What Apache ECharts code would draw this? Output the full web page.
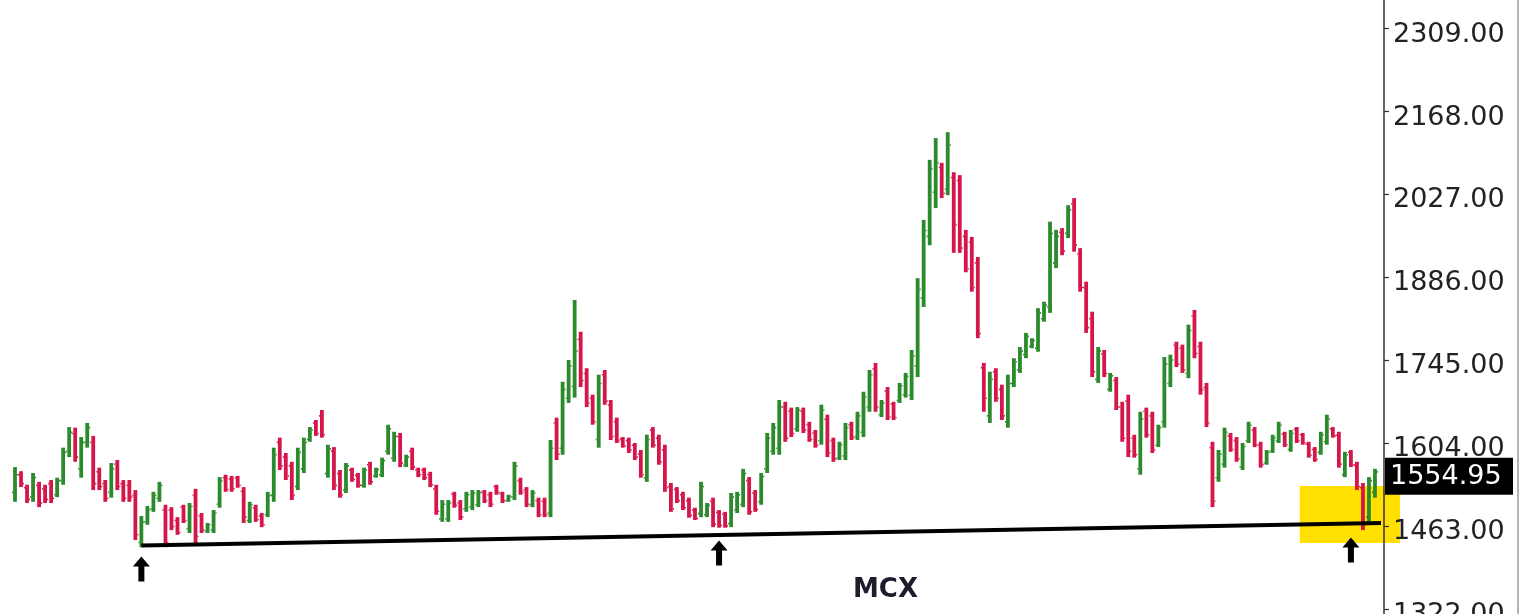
<!DOCTYPE html>
<html><head><meta charset="utf-8">
<script src="https://cdn.jsdelivr.net/npm/echarts/dist/echarts.min.js"></script>
<style>html,body{margin:0;padding:0;background:#fff}#c{width:1532px;height:614px}</style>
</head><body><div id="c"></div>
<script>
// OHLC bars (oldest -> newest)
const OPEN=[1520,1550,1528,1512,1532,1526,1535,1516,1540,1590,1620,1560,1605,1605,1555,1535,1520,1568,1535,1532,1515,1435,1470,1492,1510,1490,1490,1472,1495,1458,1515,1480,1454,1456,1500,1545,1543,
1545,1522,1472,1494,1480,1482,1515,1605,1580,1565,1530,1560,1610,1638,1650,1552,1590,1552,1524,1558,1549,1532,1567,1548,1550,1590,1578,1615,1566,1590,1558,1558,1550,1526,1475,1475,1517,
1502,1492,1495,1499,1520,1516,1530,1518,1506,1512,1540,1524,1499,1506,1505,1485,1638,1595,1680,1700,1780,1722,1680,1610,1720,1668,1640,1611,1608,1600,1585,1545,1626,1612,1592,1530,1525,1516,1506,1490,
1484,1482,1505,1486,1483,1467,1490,1500,1540,1519,1504,1560,1590,1595,1665,1658,1628,1658,1635,1621,1608,1644,1608,1579,1582,1635,1615,1622,1665,1730,1652,1692,1670,1676,1686,1685,1735,1850,1955,2030,
2072,2035,2055,2050,1955,1945,1910,1732,1650,1725,1695,1640,1705,1728,1754,1768,1765,1815,1835,1910,1962,1960,2010,1925,1868,1815,1712,1755,1695,1710,1665,1675,1612,1560,1658,1650,1600,
1640,1705,1770,1765,1722,1820,1768,1698,1596,1545,1568,1616,1608,1563,1608,1626,1600,1570,1590,1608,1619,1593,1627,1618,1602,1593,1588,1606,1628,1617,1550,1588,1566,1528,1478,1520];
const HIGH=[1563,1556,1533,1553,1538,1533,1541,1545,1596,1631,1630,1614,1638,1616,1562,1541,1570,1575,1541,1541,1524,1480,1497,1521,1538,1499,1495,1478,1499,1502,1526,1485,1468,1490,1546,1550,1548,
1548,1529,1504,1499,1485,1521,1596,1613,1587,1572,1596,1613,1631,1643,1660,1601,1597,1558,1570,1562,1553,1562,1572,1562,1579,1635,1623,1621,1584,1596,1562,1562,1555,1533,1507,1507,1521,
1507,1521,1524,1524,1524,1521,1533,1521,1516,1572,1545,1529,1524,1511,1511,1609,1647,1708,1745,1847,1793,1731,1686,1720,1728,1677,1647,1614,1613,1604,1592,1618,1631,1618,1601,1536,1529,1521,1511,1494,
1538,1502,1511,1490,1487,1519,1521,1560,1546,1524,1553,1621,1638,1677,1674,1664,1665,1664,1640,1626,1669,1652,1613,1606,1638,1640,1657,1691,1728,1740,1677,1699,1674,1706,1723,1762,1884,1983,2085,2122,
2080,2132,2064,2059,1966,1954,1920,1740,1725,1731,1703,1720,1748,1767,1791,1782,1833,1844,1980,1966,1969,2008,2020,1935,1878,1827,1767,1762,1723,1716,1674,1686,1618,1657,1664,1657,1635,
1750,1754,1776,1771,1805,1830,1776,1706,1606,1592,1630,1621,1614,1604,1640,1631,1606,1592,1618,1640,1623,1626,1631,1621,1606,1597,1623,1652,1631,1623,1589,1592,1572,1536,1546,1560];
const LOW=[1504,1529,1502,1504,1495,1502,1502,1512,1533,1580,1572,1545,1596,1524,1524,1504,1511,1524,1504,1504,1439,1427,1465,1487,1504,1427,1456,1448,1468,1451,1434,1451,1451,1451,1494,1521,1521,
1528,1468,1468,1470,1461,1478,1504,1558,1541,1507,1524,1553,1606,1616,1613,1545,1524,1511,1519,1538,1528,1528,1533,1545,1546,1584,1572,1563,1563,1558,1546,1541,1529,1482,1470,1470,1494,
1473,1487,1490,1495,1502,1495,1516,1502,1504,1507,1516,1495,1495,1478,1478,1478,1575,1584,1672,1681,1699,1665,1635,1596,1669,1609,1604,1596,1587,1575,1545,1538,1596,1567,1521,1487,1502,1490,1477,1473,
1478,1478,1461,1460,1460,1461,1485,1495,1482,1487,1499,1553,1584,1584,1606,1614,1623,1621,1606,1596,1601,1580,1572,1575,1575,1609,1609,1614,1657,1657,1648,1643,1643,1672,1681,1677,1716,1835,1940,2003,
2020,2025,1927,1927,1894,1861,1782,1657,1638,1674,1643,1630,1699,1723,1748,1765,1759,1810,1825,1901,1923,1952,1929,1861,1791,1716,1706,1716,1691,1660,1606,1580,1579,1550,1613,1587,1597,
1630,1699,1733,1723,1714,1748,1686,1631,1495,1538,1562,1589,1572,1558,1604,1597,1562,1567,1587,1604,1597,1589,1604,1601,1579,1572,1584,1601,1613,1562,1546,1563,1524,1456,1470,1511];
const CLOSE=[1550,1535,1508,1545,1502,1508,1510,1540,1588,1622,1580,1605,1630,1535,1530,1510,1560,1530,1510,1512,1448,1470,1490,1515,1532,1435,1462,1452,1472,1496,1445,1456,1465,1485,1540,1525,1526,
1532,1478,1499,1474,1465,1515,1584,1565,1548,1515,1588,1605,1626,1620,1618,1594,1532,1516,1565,1542,1532,1558,1538,1559,1574,1628,1615,1570,1580,1563,1550,1545,1533,1488,1500,1502,1498,
1478,1516,1519,1520,1506,1500,1520,1506,1513,1565,1520,1500,1519,1482,1482,1595,1585,1695,1735,1760,1710,1672,1640,1705,1675,1615,1608,1599,1592,1580,1550,1610,1600,1572,1528,1492,1506,1494,1481,1476,
1530,1498,1466,1464,1463,1512,1516,1552,1487,1491,1547,1612,1630,1665,1612,1620,1660,1626,1610,1600,1660,1587,1577,1601,1630,1613,1650,1682,1720,1665,1672,1648,1647,1701,1717,1752,1865,1965,2070,2080,
2028,2110,1975,1935,1900,1868,1790,1680,1712,1680,1650,1705,1742,1760,1785,1778,1825,1838,1960,1955,1930,2000,1940,1868,1800,1725,1760,1722,1718,1665,1612,1590,1584,1645,1618,1592,1630,
1738,1745,1738,1728,1795,1756,1694,1638,1505,1585,1622,1593,1577,1598,1634,1601,1567,1588,1613,1634,1601,1620,1608,1604,1583,1576,1618,1645,1616,1568,1584,1567,1530,1465,1540,1554.95];

const TICKS=[1322,1463,1604,1745,1886,2027,2168,2309];
const LAST_PRICE=1554.95;
const TREND=[[21,1430],[227,1468]];             // support line: [bar index, price]
const ARROWS=[[21,1390],[117,1417],[222,1422]];  // arrows under the lows
const HIGHLIGHT={from:214,low:1434,high:1531};
const TITLE='MCX';
const GREEN='#2b8a2b', RED='#d5164a';

const categories=OPEN.map((_,i)=>'#'+(i+1)).concat(['']);
const ohlc=OPEN.map((o,i)=>[i,o,HIGH[i],LOW[i],CLOSE[i]]);

function renderItem(params, api){
  const i=api.value(0);
  const pO=api.coord([i,api.value(1)]), pH=api.coord([i,api.value(2)]),
        pL=api.coord([i,api.value(3)]), pC=api.coord([i,api.value(4)]);
  const x=pO[0];
  const col=api.value(4)>=api.value(1)?GREEN:RED;
  const bw=3.8, tk=1.1, th=1.6;
  return {type:'group',children:[
    {type:'rect',shape:{x:x-bw/2,y:pH[1],width:bw,height:Math.max(1,pL[1]-pH[1])},style:{fill:col}},
    {type:'rect',shape:{x:x-bw/2-tk,y:pO[1]-th/2,width:tk,height:th},style:{fill:col}},
    {type:'rect',shape:{x:x+bw/2,y:pC[1]-th/2,width:tk,height:th},style:{fill:col}}
  ]};
}

const chart=echarts.init(document.getElementById('c'),null,{renderer:'canvas'});
const option={
  animation:false,
  backgroundColor:'#fff',
  title:{text:TITLE,left:853,top:577,padding:0,
    textStyle:{fontFamily:'DejaVu Sans',fontWeight:'bold',fontSize:26,color:'#1c1c2c'}},
  grid:{left:12,right:148,top:-13.8,bottom:-7.9,containLabel:false,outerBoundsMode:'none'},
  xAxis:{type:'category',data:categories,show:false,boundaryGap:true},
  yAxis:{type:'value',position:'right',min:1300,max:2380,
    axisLine:{show:true,lineStyle:{color:'#333',width:1.5}},
    axisTick:{show:true,customValues:TICKS,length:5,lineStyle:{color:'#333',width:1.2}},
    axisLabel:{show:false},
    splitLine:{show:false}},
  series:[
    {type:'custom',renderItem:renderItem,data:ohlc,encode:{x:0,y:[1,2,3,4]},z:2},
    {type:'line',data:TREND,symbol:'none',lineStyle:{color:'#000',width:4},z:4,silent:true},
    {type:'scatter',data:ARROWS,symbol:'path://M8.5,0 L17,10 L11.5,10 L11.5,25 L5.5,25 L5.5,10 L0,10 Z',
      symbolSize:[17,25],itemStyle:{color:'#000',opacity:1},z:5,silent:true}
  ]
};
chart.setOption(option);

const px=(i,v)=>chart.convertToPixel({xAxisIndex:0,yAxisIndex:0},[i,v]);
const band=px(1,1500)[0]-px(0,1500)[0];
const axisX=px(categories.length-1,1500)[0]+band/2;
const yc=px(0,LAST_PRICE)[1];
const hTop=px(0,HIGHLIGHT.high)[1], hBot=px(0,HIGHLIGHT.low)[1];
const hLeft=px(HIGHLIGHT.from,1500)[0]-band/2;
const FONT={fontFamily:'DejaVu Sans',fontSize:27};
const labels=TICKS.map(t=>({type:'text',z:9,silent:true,
  style:Object.assign({text:t.toFixed(2),x:axisX+9,y:px(0,t)[1]+6.5,fill:'#222',verticalAlign:'middle',align:'left'},FONT)}));
chart.setOption({graphic:[
  {type:'rect',z:0,silent:true,shape:{x:hLeft,y:hTop,width:axisX+16-hLeft,height:hBot-hTop},style:{fill:'#ffe000'}},
  ...labels,
  {type:'rect',z:10,silent:true,shape:{x:axisX+1,y:yc-14,width:128,height:37},style:{fill:'#000'}},
  {type:'text',z:11,silent:true,style:Object.assign({text:LAST_PRICE.toFixed(2),x:axisX+6,y:yc+5.5,fill:'#fff',
    verticalAlign:'middle',align:'left'},FONT)},
  {type:'line',z:10,silent:true,shape:{x1:1518,y1:0,x2:1518,y2:614},style:{stroke:'#9a9a9a',lineWidth:1.5}}
]});
</script></body></html>
